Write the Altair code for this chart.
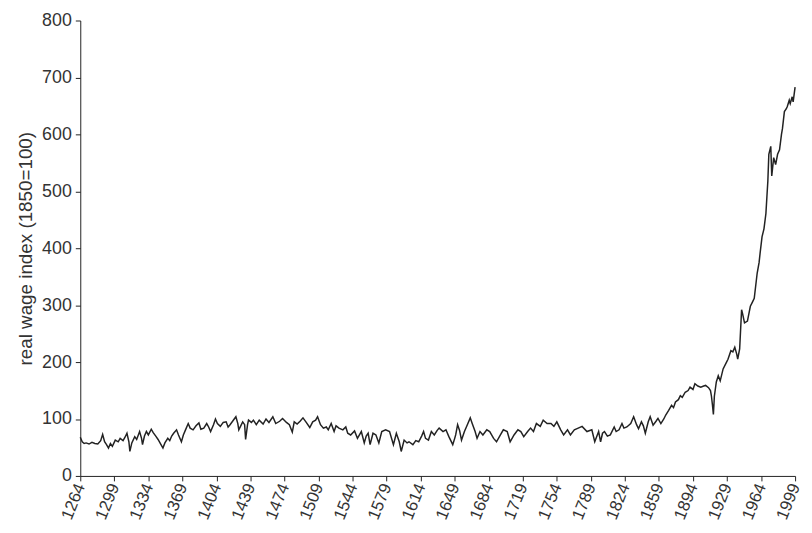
import altair as alt
import pandas as pd

years = [1264, 1266, 1268, 1270, 1273, 1276, 1279, 1282, 1285, 1287, 1289, 1291, 1293, 1295, 1297,
         1300, 1303, 1305, 1308, 1310, 1312, 1314, 1315, 1317, 1320, 1322, 1325, 1327, 1328, 1330,
         1332, 1334, 1337, 1339, 1342, 1344, 1347, 1349, 1351, 1354, 1356, 1358, 1360, 1363, 1365,
         1368, 1370, 1372, 1375, 1377, 1380, 1383, 1386, 1388, 1391, 1394, 1396, 1398, 1401, 1403,
         1405, 1408, 1411, 1414, 1416, 1418, 1421, 1424, 1426, 1427, 1429, 1431, 1433, 1434, 1436,
         1437, 1440, 1442, 1445, 1448, 1452, 1455, 1458, 1462, 1465, 1469, 1472, 1476, 1479, 1482,
         1484, 1487, 1490, 1493, 1496, 1500, 1503, 1506, 1508, 1511, 1514, 1517, 1519, 1522, 1525,
         1527, 1530, 1534, 1537, 1539, 1542, 1546, 1549, 1553, 1556, 1558, 1560, 1562, 1565, 1568,
         1571, 1574, 1578, 1582, 1586, 1589, 1592, 1594, 1597, 1600, 1602, 1606, 1609, 1612, 1615,
         1617, 1619, 1622, 1625, 1628, 1631, 1633, 1637, 1640, 1643, 1647, 1649, 1650, 1652, 1654,
         1656, 1659, 1662, 1665, 1667, 1670, 1672, 1675, 1678, 1682, 1685, 1689, 1692, 1696, 1699,
         1703, 1706, 1710, 1714, 1717, 1720, 1724, 1727, 1730, 1733, 1737, 1740, 1744, 1748, 1751,
         1754, 1758, 1761, 1765, 1768, 1772, 1776, 1780, 1785, 1790, 1793, 1797, 1799, 1801, 1803,
         1806, 1809, 1813, 1815, 1818, 1821, 1823, 1826, 1830, 1833, 1836, 1838, 1841, 1843, 1845,
         1848, 1850, 1853, 1856, 1858, 1861, 1864, 1866, 1869, 1872, 1874, 1876, 1879, 1881, 1883,
         1886, 1889, 1891, 1894, 1896, 1899, 1902, 1905, 1907, 1910, 1912, 1913, 1914, 1915, 1916,
         1918, 1920, 1922, 1925, 1928, 1930, 1933, 1935, 1937, 1939, 1940, 1942, 1944, 1945, 1947,
         1950, 1953, 1955, 1957, 1960, 1962, 1963, 1965, 1967, 1969, 1970, 1971, 1972, 1974, 1975,
         1977, 1979, 1981, 1983, 1985, 1986, 1988, 1990, 1991, 1993, 1994, 1996, 1997, 1999]

wages = [68, 60, 57, 58, 56, 59, 57, 56, 62, 73, 60, 55, 49, 57, 52,
         63, 60, 66, 62, 68, 75, 60, 43, 58, 69, 64, 78, 66, 55, 70,
         78, 72, 82, 76, 69, 64, 55, 49, 58, 66, 62, 70, 75, 81, 72,
         60, 72, 80, 92, 84, 81, 88, 93, 82, 84, 92, 86, 78, 90, 100,
         92, 87, 94, 95, 86, 90, 97, 104, 92, 81, 88, 95, 90, 64, 90,
         98, 94, 98, 90, 98, 91, 100, 94, 104, 92, 96, 101, 94, 90, 77,
         95, 91, 96, 102, 95, 85, 95, 98, 104, 90, 84, 86, 81, 92, 78,
         88, 84, 81, 86, 75, 72, 79, 66, 78, 58, 70, 75, 55, 75, 72,
         58, 78, 81, 78, 55, 75, 60, 43, 63, 58, 60, 55, 62, 60, 70,
         78, 66, 63, 78, 72, 80, 84, 78, 81, 69, 55, 66, 72, 90, 80,
         63, 78, 90, 102, 92, 78, 66, 78, 72, 81, 78, 66, 60, 72, 81,
         78, 60, 72, 81, 78, 69, 78, 84, 78, 92, 87, 98, 92, 92, 87,
         95, 81, 72, 81, 72, 81, 84, 87, 78, 81, 60, 78, 60, 75, 78,
         70, 72, 86, 78, 81, 92, 84, 86, 92, 104, 90, 83, 95, 88, 75,
         95, 104, 89, 96, 101, 92, 100, 107, 115, 124, 120, 130, 134, 141, 138,
         147, 150, 156, 152, 162, 158, 156, 158, 159, 155, 150, 140, 125, 108, 140,
         165, 176, 167, 188, 198, 205, 220, 218, 226, 214, 205, 223, 292, 285, 269,
         272, 298, 305, 312, 356, 375, 391, 420, 434, 461, 490, 518, 565, 579, 527,
         559, 547, 565, 573, 600, 610, 640, 645, 649, 660, 654, 666, 657, 683]

tick_years = [1264, 1299, 1334, 1369, 1404, 1439, 1474, 1509, 1544, 1579, 1614, 1649,
              1684, 1719, 1754, 1789, 1824, 1859, 1894, 1929, 1964, 1999]
y_ticks = [0, 100, 200, 300, 400, 500, 600, 700, 800]

df = pd.DataFrame({"year": years, "wage": wages})

FONT = "Liberation Sans"

chart = alt.Chart(df).mark_line(color="#222222", strokeWidth=1.5).encode(
    x=alt.X("year:Q",
            scale=alt.Scale(domain=[1264, 1999], nice=False, zero=False),
            axis=alt.Axis(values=tick_years, format="d", title=None, grid=False,
                          labelAngle=-68, labelAlign="right", labelBaseline="middle",
                          labelPadding=3, labelFontSize=17, labelFont=FONT,
                          labelColor="#333333", domainColor="#222222", tickColor="#222222",
                          tickSize=5, labelOverlap=False, labelFlush=False)),
    y=alt.Y("wage:Q",
            scale=alt.Scale(domain=[0, 800], nice=False),
            axis=alt.Axis(values=y_ticks, title="real wage index (1850=100)", grid=False,
                          labelFontSize=18, labelFont=FONT, labelColor="#333333",
                          labelPadding=4, tickSize=5, domainColor="#222222", tickColor="#222222",
                          titleFont=FONT, titleFontSize=19, titleFontWeight="normal",
                          titleColor="#333333", titlePadding=6)),
).properties(
    width=722, height=460,
    autosize=alt.AutoSizeParams(type="none"),
    padding={"left": 73, "top": 10, "right": 9, "bottom": 54},
).configure_view(stroke=None)

chart.save("out.html", embed_options={"renderer": "svg", "actions": False})
